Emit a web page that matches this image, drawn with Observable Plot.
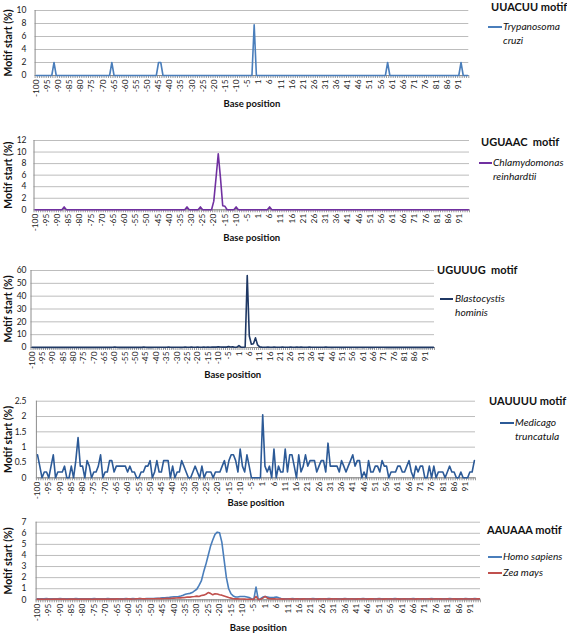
<!DOCTYPE html>
<html><head><meta charset="utf-8">
<script src="https://cdn.jsdelivr.net/npm/d3@7"></script>
<script src="https://cdn.jsdelivr.net/npm/@observablehq/plot@0.6"></script>
<style>
body{margin:0;background:#fff;}
#chart{position:relative;width:567px;height:637px;overflow:hidden;}
.panel{position:absolute;left:0;}
.lg{position:absolute;font-family:Lato,"Open Sans",sans-serif;color:#111;white-space:nowrap;}
.lg.t{font-weight:bold;font-size:11px;line-height:14px;}
.lg.e{font-style:italic;font-size:10.2px;line-height:13.5px;}
.sw{position:absolute;height:2px;}
</style>
</head><body>
<div id="chart"></div>
<script>
// Categories: base positions -100..-1, 1..95 (no 0)
const positions = [...d3.range(-100, 0), ...d3.range(1, 96)];

// Panel 1: UUACUU motif, Trypanosoma cruzi
const trypanosoma = [
 0,0,0,0,0,0,0,0,2,0,
 0,0,0,0,0,0,0,0,0,0,
 0,0,0,0,0,0,0,0,0,0,
 0,0,0,0,2,0,0,0,0,0,
 0,0,0,0,0,0,0,0,0,0,
 0,0,0,0,0,2,2,0,0,0,
 0,0,0,0,0,0,0,0,0,0,
 0,0,0,0,0,0,0,0,0,0,
 0,0,0,0,0,0,0,0,0,0,
 0,0,0,0,0,0,0,0,7.8,0,
 0,0,0,0,0,0,0,0,0,0,
 0,0,0,0,0,0,0,0,0,0,
 0,0,0,0,0,0,0,0,0,0,
 0,0,0,0,0,0,0,0,0,0,
 0,0,0,0,0,0,0,0,0,0,
 0,0,0,0,0,0,0,0,2,0,
 0,0,0,0,0,0,0,0,0,0,
 0,0,0,0,0,0,0,0,0,0,
 0,0,0,0,0,0,0,0,0,0,
 0,2,0,0,0
];

// Panel 2: UGUAAC motif, Chlamydomonas reinhardtii
const chlamydomonas = [
 0,0,0,0,0,0,0,0,0,0,
 0,0,0,0.5,0,0,0,0,0,0,
 0,0,0,0,0,0,0,0,0,0,
 0,0,0,0,0,0,0,0,0,0,
 0,0,0,0,0,0,0,0,0,0,
 0,0,0,0,0,0,0,0,0,0,
 0,0,0,0,0,0,0,0,0.5,0,
 0,0,0,0,0.5,0,0,0,0,0,
 1.5,5.5,9.7,5.5,0.7,0.6,0,0,0,0,
 0.5,0,0,0,0,0,0,0,0,0,
 0,0,0,0,0,0.5,0,0,0,0,
 0,0,0,0,0,0,0,0,0,0,
 0,0,0,0,0,0,0,0,0,0,
 0,0,0,0,0,0,0,0,0,0,
 0,0,0,0,0,0,0,0,0,0,
 0,0,0,0,0,0,0,0,0,0,
 0,0,0,0,0,0,0,0,0,0,
 0,0,0,0,0,0,0,0,0,0,
 0,0,0,0,0,0,0,0,0,0,
 0,0,0,0,0
];

// Panel 3: UGUUUG motif, Blastocystis hominis
const blastocystis = [
 0.2,0.1,0.2,0.1,0.1,0.2,0.1,0.1,0.2,0.1,
 0.1,0.2,0.1,0.1,0.2,0.1,0.1,0.1,0.2,0.1,
 0.1,0.1,0.2,0.1,0.1,0.1,0.2,0.1,0.1,0.1,
 0.2,0.1,0.1,0.1,0.2,0.1,0.1,0.2,0.1,0.2,
 0.4,0.2,0.1,0.2,0.1,0.1,0.2,0.1,0.2,0.1,
 0.2,0.1,0.2,0.1,0.3,0.2,0.1,0.2,0.1,0.2,
 0.2,0.1,0.2,0.2,0.1,0.2,0.3,0.2,0.1,0.2,
 0.2,0.2,0.1,0.2,0.3,0.2,0.2,0.3,0.2,0.2,
 0.3,0.2,0.2,0.3,0.2,0.3,0.2,0.3,0.4,0.3,
 0.6,0.4,0.3,0.4,0.3,0.8,0.4,0.5,0.2,0.3,
 1.5,0.3,0.2,0.4,56,9,2.5,3,7.5,2,
 0.5,0.3,0.2,0.2,0.3,0.2,0.2,0.3,0.2,0.2,
 0.2,0.3,0.2,0.2,0.2,0.3,0.2,0.2,0.3,0.2,
 0.3,0.2,0.2,0.2,0.3,0.2,0.2,0.2,0.2,0.2,
 0.2,0.2,0.3,0.2,0.2,0.1,0.2,0.2,0.2,0.1,
 0.2,0.1,0.2,0.2,0.1,0.2,0.2,0.1,0.2,0.2,
 0.1,0.2,0.2,0.1,0.2,0.1,0.2,0.2,0.1,0.2,
 0.2,0.1,0.2,0.1,0.1,0.2,0.1,0.2,0.1,0.1,
 0.2,0.1,0.1,0.2,0.1,0.1,0.2,0.1,0.1,0.2,
 0.1,0.1,0.2,0.1,0.1
];

// Panel 4: UAUUUU motif, Medicago truncatula
const medicago = [
 0.75,0.38,0,0.19,0.19,0,0.38,0.75,0,0.19,
 0.19,0.19,0.38,0,0,0.38,0,0.56,1.31,0.38,
 0.38,0,0.56,0.38,0,0.19,0.19,0.38,0.75,0,
 0.19,0.19,0.56,0.56,0.19,0.38,0.38,0.38,0.38,0.38,
 0.19,0.38,0.19,0.19,0,0,0.19,0.19,0.38,0.38,
 0.56,0,0.19,0.56,0.19,0.19,0.56,0.56,0.56,0,
 0.38,0,0.19,0.19,0.56,0.38,0.19,0,0,0.19,
 0.38,0.19,0,0.38,0,0.19,0.19,0.19,0,0.19,
 0.19,0.19,0.38,0.56,0.19,0.56,0.75,0.75,0.56,0.19,
 0.94,0.38,0.19,0.75,0.38,0,0,0,0,0,
 2.06,0.38,0.19,0.38,0,0.94,0,0.38,0.19,0.19,
 0.94,0.19,0.75,0.75,0.38,0,0.75,0.19,0.38,0.75,
 0.38,0.56,0.56,0.56,0.19,0.38,0.56,0.56,0.19,1.13,
 0.38,0.38,0.38,0.38,0.19,0.56,0.38,0.19,0.38,0.56,
 0.75,0.38,0.56,0.56,0,0.19,0,0.56,0.19,0.19,
 0.38,0.38,0.19,0.56,0.38,0.38,0,0.19,0.19,0.19,
 0.38,0.38,0.19,0.19,0.38,0.56,0.19,0,0.38,0.19,
 0.38,0.38,0,0,0.38,0,0.38,0,0.19,0.19,
 0.19,0,0.19,0.38,0.19,0.19,0,0,0.19,0,
 0,0,0.19,0.19,0.56
];

// Panel 5: AAUAAA motif, Homo sapiens and Zea mays
const homoSapiens = [
 0.1,0.08,0.1,0.1,0.12,0.1,0.1,0.08,0.1,0.1,
 0.12,0.1,0.1,0.08,0.1,0.1,0.1,0.12,0.1,0.1,
 0.1,0.1,0.08,0.1,0.1,0.12,0.1,0.1,0.1,0.1,
 0.1,0.12,0.1,0.1,0.1,0.1,0.08,0.1,0.1,0.12,
 0.1,0.1,0.12,0.1,0.1,0.12,0.1,0.1,0.12,0.12,
 0.12,0.12,0.14,0.14,0.15,0.17,0.18,0.2,0.22,0.25,
 0.27,0.28,0.3,0.35,0.42,0.5,0.55,0.58,0.65,0.8,
 0.95,1.3,1.7,2.5,3.2,4.0,4.8,5.4,5.9,6.1,
 6.05,5.2,3.6,2.0,1.0,0.55,0.35,0.25,0.25,0.3,
 0.3,0.3,0.25,0.2,0.1,0.02,1.15,0.02,0.1,0.25,
 0.3,0.25,0.2,0.2,0.22,0.25,0.18,0.12,0.1,0.1,
 0.1,0.1,0.12,0.1,0.1,0.1,0.08,0.1,0.1,0.1,
 0.1,0.12,0.1,0.1,0.08,0.1,0.1,0.1,0.12,0.1,
 0.1,0.1,0.08,0.1,0.1,0.12,0.1,0.1,0.1,0.08,
 0.1,0.1,0.1,0.12,0.1,0.1,0.08,0.1,0.1,0.1,
 0.12,0.1,0.1,0.1,0.08,0.1,0.1,0.12,0.1,0.1,
 0.1,0.08,0.1,0.1,0.1,0.12,0.1,0.1,0.1,0.1,
 0.08,0.1,0.1,0.12,0.1,0.1,0.1,0.08,0.1,0.1,
 0.1,0.12,0.1,0.1,0.1,0.08,0.1,0.1,0.12,0.1,
 0.1,0.1,0.12,0.1,0.1
];
const zeaMays = [
 0.06,0.05,0.06,0.05,0.06,0.06,0.05,0.06,0.07,0.06,
 0.07,0.06,0.06,0.05,0.06,0.07,0.06,0.06,0.05,0.06,
 0.06,0.07,0.06,0.06,0.05,0.06,0.07,0.06,0.06,0.07,
 0.06,0.07,0.06,0.07,0.06,0.08,0.07,0.06,0.07,0.08,
 0.1,0.06,0.07,0.08,0.1,0.12,0.1,0.08,0.09,0.1,
 0.1,0.09,0.1,0.11,0.12,0.1,0.12,0.13,0.12,0.14,
 0.15,0.16,0.18,0.17,0.2,0.22,0.25,0.24,0.28,0.3,
 0.33,0.3,0.38,0.42,0.5,0.65,0.58,0.45,0.55,0.52,
 0.45,0.42,0.35,0.28,0.2,0.15,0.1,0.08,0.08,0.07,
 0.07,0.06,0.05,0.06,0.05,0.04,0.3,0.03,0.05,0.15,
 0.3,0.15,0.1,0.08,0.08,0.07,0.07,0.08,0.06,0.07,
 0.07,0.08,0.06,0.07,0.08,0.07,0.06,0.08,0.07,0.07,
 0.08,0.07,0.07,0.06,0.08,0.07,0.08,0.07,0.06,0.08,
 0.07,0.08,0.07,0.07,0.06,0.08,0.07,0.07,0.08,0.07,
 0.06,0.08,0.07,0.08,0.07,0.06,0.08,0.08,0.07,0.07,
 0.08,0.07,0.06,0.08,0.07,0.08,0.07,0.07,0.08,0.06,
 0.07,0.08,0.07,0.07,0.08,0.07,0.06,0.08,0.07,0.08,
 0.07,0.07,0.08,0.06,0.07,0.08,0.07,0.08,0.07,0.07,
 0.08,0.07,0.07,0.08,0.06,0.07,0.08,0.07,0.08,0.07,
 0.07,0.08,0.07,0.1,0.08
];

const motifs = ["UUACUU motif", "UGUAAC\u00a0 motif", "UGUUUG\u00a0 motif", "UAUUUU motif", "AAUAAA motif"];
const yTickLists = [[0,2,4,6,8,10],[0,2,4,6,8,10,12],[0,10,20,30,40,50,60],[0,0.5,1,1.5,2,2.5],[0,1,2,3,4,5,6,7]];

const FONT = 'Lato, "Open Sans", sans-serif';
const chart = document.getElementById("chart");

const panels = [
  {top:0, height:115, mt:10, mb:40, ml:34.6, mr:98.7, dy:31, yTicks:yTickLists[0],
   series:[{name:"Trypanosoma cruzi", values:trypanosoma, color:"#4a7ebb"}],
   legend:{title:[491,0], sw:[488,27,14], text:[503,20], lines:["Trypanosoma","cruzi"]}},
  {top:120, height:130, mt:20, mb:40.7, ml:33.5, mr:98, dy:31, yTicks:yTickLists[1],
   series:[{name:"Chlamydomonas reinhardtii", values:chlamydomonas, color:"#7030a0"}],
   legend:{title:[481,135], sw:[479,163,13], text:[493,156], lines:["Chlamydomonas","reinhardtii"]}},
  {top:250, height:135, mt:20, mb:38, ml:30.5, mr:133, dy:30, yTicks:yTickLists[2],
   series:[{name:"Blastocystis hominis", values:blastocystis, color:"#1f3864"}],
   legend:{title:[437,263], sw:[440,299,13], text:[455,292], lines:["Blastocystis","hominis"]}},
  {top:385, height:125, mt:15.7, mb:32.7, ml:35.9, mr:92, dy:28.4, yTicks:yTickLists[3],
   series:[{name:"Medicago truncatula", values:medicago, color:"#2c5a97"}],
   legend:{title:[489,394], sw:[500,423,14], text:[515,416], lines:["Medicago","truncatula"]}},
  {top:510, height:127, mt:11.7, mb:37.7, ml:35.6, mr:87, dy:31.4, yTicks:yTickLists[4],
   series:[{name:"Homo sapiens", values:homoSapiens, color:"#4a7ebb"},{name:"Zea mays", values:zeaMays, color:"#c0504d"}],
   legend:{title:[487,523], multi:true, items:[[488,557,503],[488,573,503]]}}
];

const n = positions.length;
const boundaries = d3.range(n + 1).map(i => i - 0.5);
const majorIdx = d3.range(0, n, 5);

panels.forEach((p, pi) => {
  const data = p.series.flatMap(s => s.values.map((v, i) => ({i, v, k: s.name})));
  const ymax = p.yTicks[p.yTicks.length - 1];
  const svg = Plot.plot({
    width: 567, height: p.height,
    marginTop: p.mt, marginBottom: p.mb, marginLeft: p.ml, marginRight: p.mr,
    style: {fontFamily: FONT, fontSize: "8px", color: "#1a1a1a", background: "transparent", overflow: "visible"},
    x: {type: "linear", domain: [-0.5, n - 0.5], axis: null},
    y: {domain: [0, ymax], axis: null},
    color: {domain: p.series.map(s => s.name), range: p.series.map(s => s.color)},
    marks: [
      Plot.gridY({ticks: p.yTicks, stroke: "#bdbdbd", strokeOpacity: 1}),
      Plot.axisY({ticks: p.yTicks, tickSize: 0, tickPadding: p.ml - 26, tickFormat: d => String(d), fontSize: 8.5, label: null}),
      Plot.axisX({ticks: boundaries, tickSize: 3, tickFormat: () => "", stroke: "#9a9a9a", label: null}),
      Plot.axisX({ticks: majorIdx, tickSize: 0, tickPadding: 4, tickRotate: -90, tickFormat: i => String(positions[i]), fontSize: 8.3, label: null}),
      Plot.ruleY([0], {stroke: "#8c8c8c"}),
      Plot.ruleX([-0.5], {stroke: "#8c8c8c"}),
      Plot.line(data, {x: "i", y: "v", z: "k", stroke: "k", strokeWidth: 1.6, strokeLinejoin: "round"}),
      Plot.text(["Base position"], {frameAnchor: "bottom", dy: p.dy, fontWeight: "bold", fontSize: 9.5, fill: "#111"}),
      Plot.text(["Motif start (%)"], {frameAnchor: "left", dx: 8.3 - p.ml, rotate: -90, textAnchor: "middle", fontWeight: "bold", fontSize: 10.5, fill: "#111"})
    ]
  });
  svg.classList.add("panel");
  svg.style.top = p.top + "px";
  chart.appendChild(svg);

  const L = p.legend;
  const t = document.createElement("div");
  t.className = "lg t";
  t.style.left = L.title[0] + "px"; t.style.top = L.title[1] + "px";
  t.textContent = motifs[pi];
  chart.appendChild(t);
  if (!L.multi) {
    const sw = document.createElement("div");
    sw.className = "sw";
    sw.style.left = L.sw[0] + "px"; sw.style.top = (L.sw[1] - 1) + "px"; sw.style.width = L.sw[2] + "px";
    sw.style.background = p.series[0].color;
    chart.appendChild(sw);
    const e = document.createElement("div");
    e.className = "lg e";
    e.style.left = L.text[0] + "px"; e.style.top = L.text[1] + "px";
    e.innerHTML = L.lines[0] + "<br>" + L.lines[1];
    chart.appendChild(e);
  } else {
    p.series.forEach((s, k) => {
      const [x, y, tx] = L.items[k];
      const sw = document.createElement("div");
      sw.className = "sw";
      sw.style.left = x + "px"; sw.style.top = (y - 1) + "px"; sw.style.width = "14px";
      sw.style.background = s.color;
      chart.appendChild(sw);
      const e = document.createElement("div");
      e.className = "lg e";
      e.style.left = tx + "px"; e.style.top = (y - 7) + "px";
      e.textContent = s.name;
      chart.appendChild(e);
    });
  }
});
</script>
</body></html>
